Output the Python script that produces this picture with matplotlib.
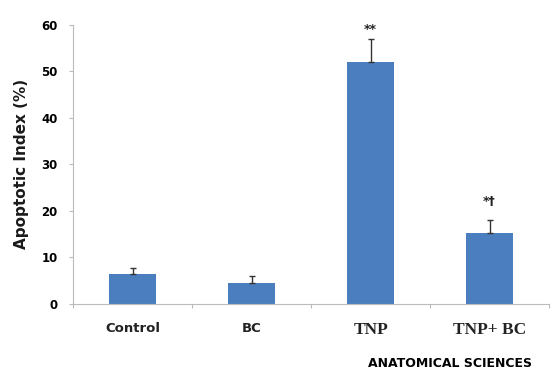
import numpy as np
import matplotlib.pyplot as plt

groups = ['Control', 'BC', 'TNP', 'TNP+ BC']
index_mean = [6.5, 4.5, 52.0, 15.3]
index_sem = [1.3, 1.5, 5.0, 2.8]
marks = ['', '', '**', '*†']


def main():
    fig = plt.figure(figsize=[5.53, 3.72], dpi=100)
    ax = fig.add_axes([0.132, 0.183, 0.861, 0.75])

    x = np.arange(len(groups))
    lower = np.zeros(len(groups))
    ax.bar(x, index_mean, width=0.4, color='#4a7ebe', zorder=2)
    ax.errorbar(x, index_mean, yerr=[lower, index_sem], fmt='none',
                ecolor='#333333', elinewidth=1, capsize=2.5, capthick=1, zorder=3)

    # the dagger sits a bit higher above its bar
    gap = {'**': 0.6, '*†': 2.6}
    for xi, m, s, t in zip(x, index_mean, index_sem, marks):
        if t:
            ax.text(xi, m + s + gap[t], t, ha='center', va='bottom',
                    fontsize=9, fontweight='bold', color='#222222')

    ax.set_xlim(-0.5, len(groups) - 0.5)
    ax.set_ylim(0, 60)
    ax.set_yticks(np.arange(0, 61, 10))
    ax.set_xticks(np.arange(-0.5, len(groups)), minor=False)
    ax.set_xticklabels([])
    ax.set_xticks(x, minor=True)
    ax.set_xticklabels(groups, minor=True)
    ax.tick_params(axis='x', which='minor', length=0, pad=13)
    ax.tick_params(axis='x', which='major', length=3, color='#bbbbbb')
    ax.tick_params(axis='y', length=3, color='#bbbbbb', labelsize=8.5, pad=8)
    for lbl in ax.get_yticklabels():
        lbl.set_fontweight('bold')

    for lbl, g in zip(ax.get_xticklabels(minor=True), groups):
        if g.startswith('TNP'):
            lbl.set_family('Liberation Serif')
            lbl.set_fontsize(12.5)
        else:
            lbl.set_fontsize(9.5)
        lbl.set_fontweight('bold')
        lbl.set_color('#222222')

    for side in ['top', 'right']:
        ax.spines[side].set_visible(False)
    ax.spines['left'].set_color('#bbbbbb')
    ax.spines['bottom'].set_color('#bbbbbb')

    ax.set_ylabel('Apoptotic Index (%)', fontsize=11, fontweight='bold',
                  labelpad=9, color='#1a1a1a')

    fig.text(0.665, 0.006, 'ANATOMICAL SCIENCES', fontsize=9, fontweight='bold',
             color='black', ha='left', va='bottom')

    fig.savefig('out.png', dpi=100)


main()
